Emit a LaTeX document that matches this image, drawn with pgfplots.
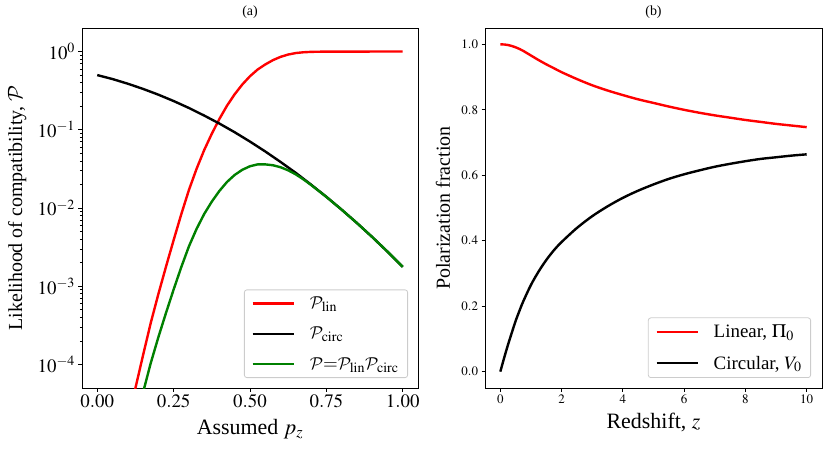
\documentclass[border=0pt]{standalone}
\usepackage{mathptmx}
\DeclareMathAlphabet{\mathcal}{OMS}{cmsy}{m}{n}
\usepackage[no-math]{fontspec}
\setmainfont{Liberation Serif}
\usepackage{pgfplots}
\pgfplotsset{compat=1.18}
\definecolor{mplgreen}{RGB}{0,128,0}
\newcommand\legfont{\fontsize{19}{22}\selectfont}
\newcommand\titfont{\fontsize{14}{16}\selectfont}
\begin{document}
\begin{tikzpicture}
\useasboundingbox (0,0) rectangle (831bp,452bp);
\pgfplotsset{
  myaxis/.style={
    scale only axis, height=360bp,
    axis line style={line width=0.8bp},
    every tick/.style={line width=0.8bp, black},
    tick align=outside, major tick length=3.5bp, minor tick length=2bp,
    xtick pos=bottom, ytick pos=left,
    legend cell align=left,
    legend style={draw=black!20, rounded corners=2.5bp, fill=white, line width=0.8bp,
      inner xsep=7bp, inner ysep=5bp, font=\legfont, nodes={font=\legfont},
      /tikz/row sep=13bp, /tikz/every odd column/.append style={column sep=13bp}},
    legend image code/.code={\draw[#1, line width=2.4bp] (0bp,0bp) -- (41bp,0bp);},
  },
}
% ---------------- (a)
\begin{axis}[myaxis,
  at={(82bp,64bp)}, anchor=south west, width=336bp,
  title={\titfont (a)},
  title style={anchor=south, at={(axis description cs:0.5,1)}, yshift=0bp},
  xmin=-0.05, xmax=1.05,
  ymode=log, ymin=5e-5, ymax=2,
  xtick={0,0.25,0.5,0.75,1},
  xticklabel style={font=\fontsize{19}{22}\selectfont, /pgf/number format/fixed, /pgf/number format/fixed zerofill, /pgf/number format/precision=2},
  ytick={1e-4,1e-3,1e-2,1e-1,1},
  yticklabel style={font=\fontsize{19}{22}\selectfont},
  xlabel={Assumed $p_z$},
  ylabel={Likelihood of compatibility, $\mathcal{P}$},
  xlabel style={font=\fontsize{22}{26}\selectfont, at={(axis description cs:0.5,-0.115)}, anchor=center},
  ylabel style={font=\fontsize{20}{24}\selectfont, at={(axis description cs:-0.193,0.5)}, anchor=center, rotate=0},
  legend style={at={(1,0)}, anchor=south east, xshift=-10bp, yshift=10bp},
]
\addplot[red, line width=2.4bp] coordinates {
(0.11,2.82e-5) (0.125,5.01e-5) (0.15,1.318e-4) (0.175,3.39e-4) (0.20,7.94e-4)
(0.225,1.778e-3) (0.25,3.89e-3) (0.275,8.32e-3) (0.30,0.01698) (0.325,0.03162)
(0.35,0.0550) (0.375,0.0891) (0.40,0.138) (0.425,0.204) (0.45,0.285)
(0.475,0.380) (0.50,0.484) (0.525,0.589) (0.55,0.684) (0.575,0.776)
(0.60,0.855) (0.625,0.916) (0.65,0.957) (0.675,0.979) (0.70,0.991)
(0.725,0.995) (0.75,0.998) (0.80,0.999) (0.90,1.0) (1.0,1.0)
};
\addlegendentry{$\mathcal{P}_{\mathrm{lin}}$}
\addplot[black, line width=2.4bp] coordinates {
(0,0.500) (0.05,0.445) (0.10,0.388) (0.15,0.333) (0.20,0.281) (0.25,0.233)
(0.30,0.190) (0.35,0.152) (0.40,0.120) (0.45,0.0929) (0.50,0.0706)
(0.55,0.0528) (0.60,0.0388) (0.65,0.0281) (0.70,0.0199) (0.75,0.0139)
(0.80,0.00953) (0.85,0.00643) (0.90,0.00426) (0.95,0.00277) (1.00,0.00177)
};
\addlegendentry{$\mathcal{P}_{\mathrm{circ}}$}
\addplot[mplgreen, line width=2.4bp] coordinates {
(0.14,3.09e-5) (0.15,4.40e-5) (0.175,1.04e-4) (0.20,2.23e-4) (0.225,4.56e-4)
(0.25,9.08e-4) (0.275,1.754e-3) (0.30,3.23e-3) (0.325,5.40e-3) (0.35,8.38e-3)
(0.375,0.01208) (0.40,0.01656) (0.425,0.02158) (0.45,0.02649) (0.475,0.03083)
(0.50,0.0342) (0.525,0.0361) (0.55,0.0361) (0.575,0.0352) (0.60,0.0332)
(0.625,0.0303) (0.65,0.0269) (0.675,0.0232) (0.70,0.0197) (0.75,0.01387)
(0.80,0.00952) (0.85,0.00643) (0.90,0.00426) (0.95,0.00277) (1.00,0.00177)
};
\addlegendentry{$\mathcal{P}{=}\mathcal{P}_{\mathrm{lin}}\mathcal{P}_{\mathrm{circ}}$}
\end{axis}
% ---------------- (b)
\begin{axis}[myaxis,
  at={(485bp,64bp)}, anchor=south west, width=337bp,
  title={\titfont (b)},
  title style={anchor=south, at={(axis description cs:0.5,1)}, yshift=0bp},
  xmin=-0.5, xmax=10.5,
  ymin=-0.05, ymax=1.05,
  xtick={0,2,4,6,8,10},
  ytick={0,0.2,0.4,0.6,0.8,1.0},
  xticklabel style={font=\fontsize{13}{15}\selectfont},
  yticklabel style={font=\fontsize{13}{15}\selectfont, /pgf/number format/fixed, /pgf/number format/fixed zerofill, /pgf/number format/precision=1},
  xlabel={Redshift, $z$},
  ylabel={Polarization fraction},
  xlabel style={font=\fontsize{22}{26}\selectfont, at={(axis description cs:0.5,-0.097)}, anchor=center},
  ylabel style={font=\fontsize{20}{24}\selectfont, at={(axis description cs:-0.125,0.5)}, anchor=center, rotate=0},
  legend style={at={(1,0)}, anchor=south east, xshift=-11bp, yshift=10bp},
]
\addplot[red, line width=2.4bp, smooth] coordinates {
(0,1.000) (0.125,0.9996) (0.25,0.998) (0.375,0.995) (0.5,0.991) (0.625,0.986)
(0.75,0.980) (0.875,0.973) (1.0,0.966) (1.25,0.952)
(1.5,0.939) (1.75,0.927) (2.0,0.915) (2.5,0.894) (3.0,0.875) (3.5,0.859)
(4.0,0.845) (4.5,0.832) (5.0,0.821) (5.5,0.810) (6.0,0.800) (6.5,0.791)
(7.0,0.783) (7.5,0.776) (8.0,0.769) (8.5,0.763) (9.0,0.757) (9.5,0.752) (10,0.747)
};
\addlegendentry{Linear, $\Pi_0$}
\addplot[black, line width=2.4bp, smooth] coordinates {
(0,0) (0.125,0.042) (0.25,0.082) (0.375,0.119) (0.5,0.155) (0.625,0.186) (0.75,0.215)
(1.0,0.265) (1.25,0.306)
(1.5,0.341) (1.75,0.371) (2.0,0.396) (2.5,0.439) (3.0,0.475) (3.5,0.505)
(4.0,0.531) (4.5,0.553) (5.0,0.572) (5.5,0.589) (6.0,0.603) (6.5,0.615)
(7.0,0.626) (7.5,0.635) (8.0,0.643) (8.5,0.650) (9.0,0.655) (9.5,0.660) (10,0.664)
};
\addlegendentry{Circular, $V_0$}
\end{axis}
\end{tikzpicture}
\end{document}
